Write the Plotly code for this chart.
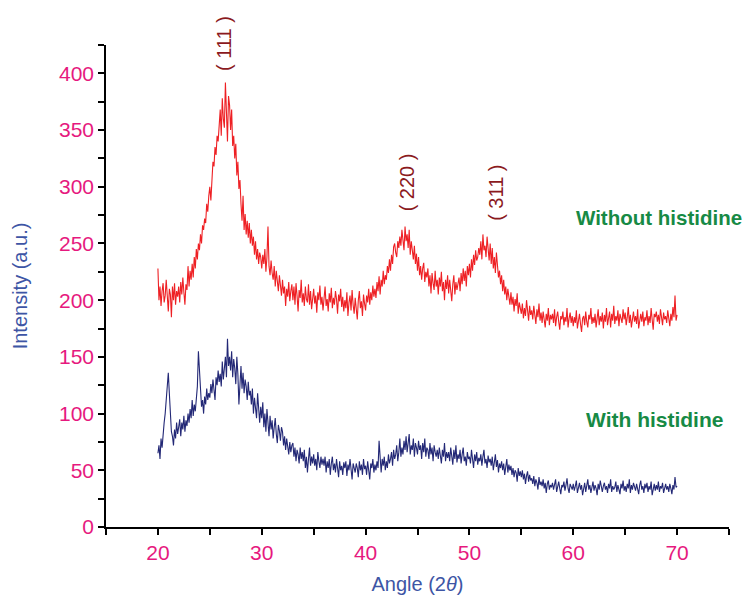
import numpy as np
import plotly.graph_objects as go

# 2-theta grid: 20.0 .. 70.0 in 0.1 steps (501 points)
angle = [round(20 + 0.1 * i, 1) for i in range(501)]

without_histidine = [
    228, 200, 212, 195, 208, 215, 198, 204, 218, 200,
    190, 210, 205, 185, 212, 200, 215, 196, 208, 203,
    212, 198, 216, 205, 220, 207, 196, 214, 209, 230,
    212, 226, 218, 232, 220, 238, 228, 245, 236, 250,
    244, 258, 250, 266, 262, 272, 268, 285, 278, 292,
    300, 288, 312, 322, 318, 335, 328, 345, 340, 355,
    368, 345, 378, 360, 352, 392, 365, 340, 380, 372,
    350, 368, 336, 345, 325, 338, 310, 322, 298, 306,
    285, 270, 292, 262, 276, 258, 270, 255, 268, 250,
    262, 248, 256, 240, 252, 236, 245, 232, 242, 238,
    228, 240, 232, 245, 225, 238, 265, 230, 222, 235,
    224, 218, 230, 212, 226, 215, 208, 222, 214, 204,
    218, 206, 212, 195, 210, 203, 216, 199, 208, 214,
    200, 212, 196, 215, 204, 190, 209, 202, 218, 198,
    206, 195, 212, 201, 198, 214, 196, 208, 192, 205,
    210, 197, 204, 189, 207, 200, 213, 196, 203, 191,
    204, 212, 195, 201, 190, 206, 198, 211, 193, 202,
    196, 208, 201, 188, 205, 199, 210, 194, 203, 190,
    200, 193, 207, 186, 198, 204, 191, 209, 196, 188,
    202, 195, 183, 200, 208, 193, 199, 186, 205, 197,
    191, 204, 198, 210, 196, 207, 200, 213, 203, 210,
    202, 216, 208, 221, 205, 218, 212, 226, 214, 222,
    218, 230, 224, 236, 226, 240, 232, 247, 250, 242,
    238, 252, 246, 256, 248, 262, 250, 244, 265, 252,
    258, 246, 262, 240, 252, 244, 236, 248, 232, 241,
    226, 238, 222, 230, 218, 228, 233, 216, 225, 220,
    228, 212, 222, 206, 224, 215, 209, 226, 212, 218,
    205, 220, 212, 225, 208, 216, 200, 218, 210, 222,
    206, 218, 211, 199, 214, 222, 205, 216, 209, 213,
    220, 208, 224, 214, 228, 217, 226, 212, 230, 222,
    232, 220, 236, 226, 240, 231, 244, 235, 238, 246,
    240, 252, 236, 258, 244, 248, 238, 256, 242, 235,
    250, 232, 246, 228, 238, 224, 242, 230, 220, 226,
    214, 222, 208, 218, 205, 212, 200, 210, 203, 196,
    207, 196, 203, 190, 201, 195, 206, 188, 198, 192,
    188, 197, 184, 193, 186, 200, 190, 182, 195, 187,
    191, 183, 195, 186, 179, 192, 185, 197, 182, 189,
    180, 190, 184, 176, 188, 182, 193, 178, 187, 183,
    188, 180, 192, 177, 185, 190, 181, 174, 186, 183,
    190, 178, 185, 181, 193, 176, 184, 189, 180, 186,
    177, 185, 180, 191, 175, 183, 188, 179, 172, 184,
    186, 178, 190, 181, 176, 187, 183, 193, 179, 185,
    180, 188, 176, 184, 192, 178, 186, 181, 189, 175,
    187, 181, 193, 178, 185, 190, 176, 188, 182, 195,
    179, 186, 182, 191, 177, 188, 184, 180, 192, 183,
    189, 178, 185, 194, 180, 187, 176, 183, 190, 181,
    186, 179, 192, 175, 184, 188, 181, 190, 177, 185,
    182, 191, 178, 186, 180, 193, 183, 174, 188, 185,
    190, 181, 187, 179, 192, 184, 178, 189, 183, 186,
    180, 191, 184, 177, 188, 182, 194, 185, 204, 182,
    187,
]

with_histidine = [
    65, 72, 60, 78, 70, 84, 92, 100, 112, 128,
    136, 118, 98, 84, 80, 72, 86, 78, 92, 82,
    88, 95, 80, 92, 86, 98, 84, 94, 89, 100,
    92, 104, 96, 112, 98, 108, 102, 118, 124, 155,
    140, 118, 106, 112, 100, 115, 108, 122, 112, 118,
    114, 126, 118, 130, 122, 112, 132, 125, 138, 128,
    135, 124, 146, 130, 140, 150, 132, 166, 142, 150,
    138, 155, 132, 148, 140, 126, 150, 135, 108, 128,
    142, 122, 136, 118, 130, 124, 112, 128, 116, 120,
    108, 122, 100, 114, 104, 96, 118, 102, 92, 106,
    96, 110, 88, 100, 84, 104, 92, 80, 98, 86,
    94, 78, 88, 96, 82, 74, 90, 85, 76, 88,
    84, 72, 80, 68, 78, 70, 64, 75, 66, 72,
    74, 62, 70, 58, 68, 64, 56, 70, 60, 66,
    58, 68, 52, 62, 48, 60, 70, 54, 62, 56,
    64, 54, 60, 50, 66, 58, 52, 62, 55, 60,
    54, 62, 48, 58, 52, 60, 46, 56, 62, 50,
    56, 48, 60, 52, 44, 58, 50, 54, 46, 57,
    52, 58, 45, 55, 50, 60, 48, 42, 56, 52,
    48, 56, 52, 44, 58, 50, 55, 46, 60, 51,
    54, 46, 58, 50, 42, 56, 52, 60, 48, 55,
    50, 58, 52, 76, 56, 48, 60, 54, 62, 50,
    58, 52, 64, 56, 60, 66, 54, 68, 60, 64,
    72, 58, 66, 78, 62, 70, 64, 76, 68, 80,
    66, 74, 82, 64, 72, 68, 78, 62, 74, 70,
    64, 76, 68, 72, 60, 74, 66, 78, 62, 70,
    68, 60, 74, 64, 70, 58, 72, 66, 62, 68,
    60, 70, 64, 56, 68, 62, 74, 58, 66, 61,
    66, 58, 70, 62, 55, 68, 60, 72, 57, 64,
    60, 68, 56, 64, 70, 58, 62, 54, 66, 60,
    62, 56, 68, 60, 52, 64, 58, 66, 55, 61,
    58, 64, 54, 62, 68, 56, 60, 52, 63, 57,
    60, 54, 62, 50, 58, 64, 53, 59, 48, 56,
    52, 58, 50, 56, 46, 54, 60, 48, 55, 50,
    54, 46, 52, 44, 50, 48, 40, 52, 45, 49,
    44, 50, 42, 47, 38, 45, 49, 40, 46, 41,
    43, 38, 45, 36, 42, 39, 33, 44, 37, 40,
    36, 42, 34, 39, 30, 38, 41, 33, 37, 35,
    39, 33, 37, 42, 31, 36, 40, 34, 29, 37,
    35, 40, 32, 37, 43, 34, 30, 38, 36, 33,
    38, 32, 36, 41, 30, 35, 39, 33, 37, 28,
    34, 39, 31, 36, 42, 33, 37, 30, 35, 40,
    32, 37, 34, 28, 38, 33, 41, 35, 31, 36,
    39, 33, 36, 30, 38, 34, 42, 31, 36, 33,
    35, 40, 31, 37, 33, 29, 38, 34, 41, 32,
    36, 31, 38, 34, 42, 30, 37, 33, 39, 35,
    32, 38, 34, 29, 37, 41, 33, 36, 30, 38,
    34, 39, 31, 36, 33, 40, 28, 35, 38, 32,
    37, 33, 40, 31, 36, 34, 39, 30, 35, 38,
    33, 36, 31, 38, 34, 29, 37, 33, 44, 35,
    36,
]

peak_labels = ["( 111 )", "( 220 )", "( 311 )"]
peak_x = [26.3, 44.0, 52.6]
peak_y = [1.003, 304, 295]
peak_yref = ["paper", "y", "y"]

series_labels = ["Without histidine", "With histidine"]
series_label_x = [60.1, 61.0]
series_label_y = [273, 95]
series_label_size = [20.5, 21]

x_ticks = [20, 30, 40, 50, 60, 70]
y_ticks = [0, 50, 100, 150, 200, 250, 300, 350, 400]

FONT = "Liberation Sans, Arial, Helvetica, sans-serif"
PINK = "#E6197E"
BLUE_T = "#3D55A5"
DARKRED = "#8B1A1E"
GREEN = "#178A45"

fig = go.Figure()
fig.add_trace(go.Scatter(x=angle, y=without_histidine, mode="lines",
                         line=dict(color="#EE2024", width=1.1), showlegend=False))
fig.add_trace(go.Scatter(x=angle, y=with_histidine, mode="lines",
                         line=dict(color="#232876", width=1.1), showlegend=False))

for t, x, y, yr in zip(peak_labels, peak_x, peak_y, peak_yref):
    fig.add_annotation(x=x, y=y, xref="x", yref=yr, text=t, textangle=-90,
                       showarrow=False, xanchor="center", yanchor="middle",
                       font=dict(family=FONT, size=20, color=DARKRED))

for t, x, y, s in zip(series_labels, series_label_x, series_label_y, series_label_size):
    fig.add_annotation(x=x, y=y, xref="x", yref="y", text="<b>" + t + "</b>",
                       showarrow=False, xanchor="left", yanchor="middle",
                       font=dict(family=FONT, size=s, color=GREEN))

fig.update_layout(
    width=745, height=587,
    margin=dict(l=98, r=24, t=37, b=68, autoexpand=False),
    paper_bgcolor="white", plot_bgcolor="white",
    font=dict(family=FONT, size=20, color=PINK),
)
fig.update_xaxes(
    range=[15, 75], tickvals=x_ticks, ticks="outside", ticklen=6, tickwidth=1.5,
    tickcolor="black", showline=True, linecolor="black", linewidth=1.5,
    showgrid=False, zeroline=False, automargin=False,
    minor=dict(dtick=5, tick0=15, ticks="outside", ticklen=6, tickwidth=1.5, tickcolor="black"),
    tickfont=dict(family=FONT, size=21, color=PINK),
    title=dict(text="Angle (2<i>θ</i>)", font=dict(family=FONT, size=20, color=BLUE_T), standoff=24),
)
fig.update_yaxes(
    range=[0, 425], tickvals=y_ticks, ticks="outside", ticklen=6, tickwidth=1.5,
    tickcolor="black", showline=True, linecolor="black", linewidth=1.5,
    showgrid=False, zeroline=False, automargin=False,
    minor=dict(dtick=25, tick0=0, ticks="outside", ticklen=6, tickwidth=1.5, tickcolor="black"),
    tickfont=dict(family=FONT, size=21, color=PINK),
    title=dict(text="Intensity (a.u.)", font=dict(family=FONT, size=20, color=BLUE_T), standoff=26),
)

fig.write_html("out.html")
